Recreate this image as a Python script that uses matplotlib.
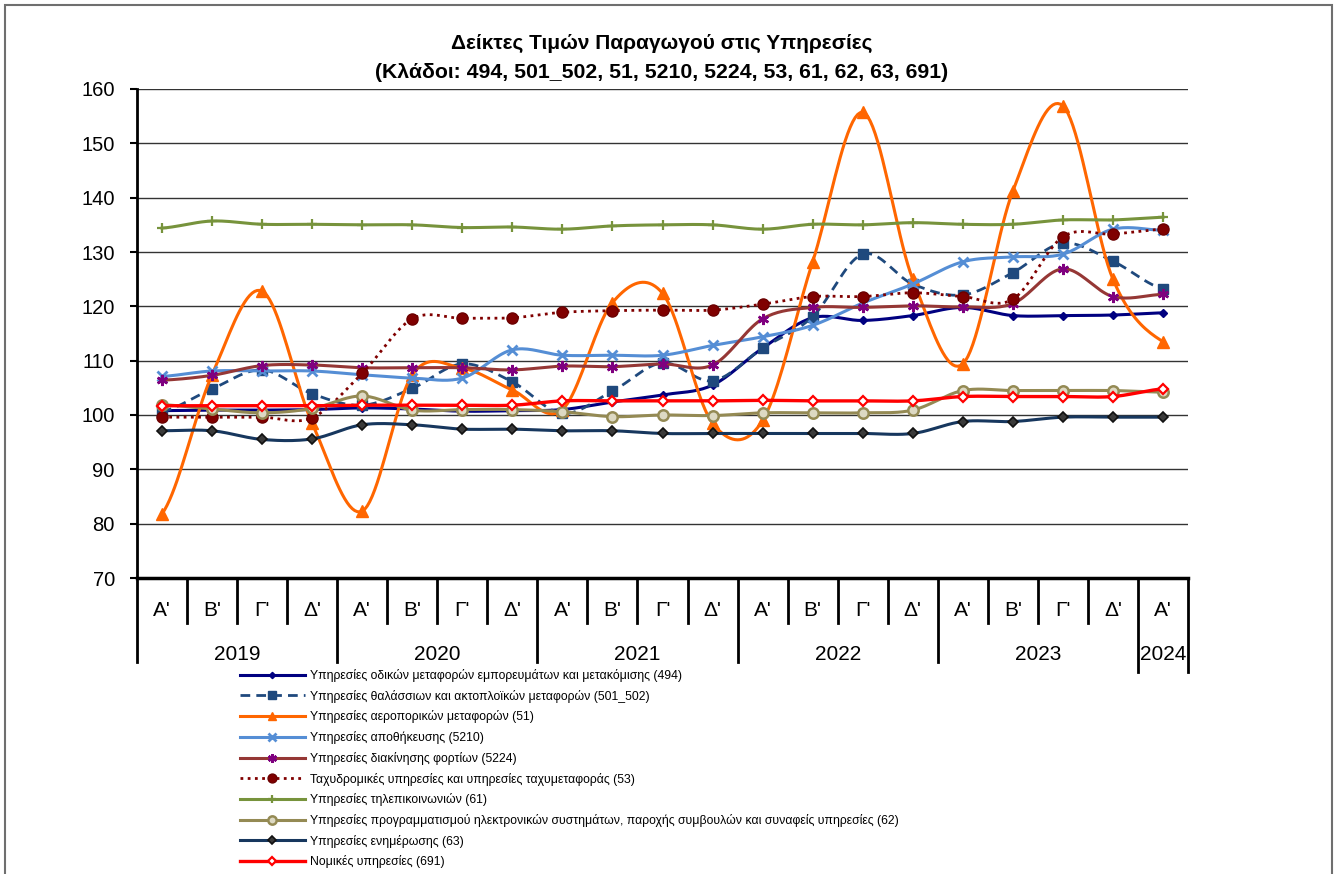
import numpy as np
import matplotlib
matplotlib.use("Agg")
from matplotlib import pyplot as plt
from matplotlib.patches import Rectangle

plt.rcParams['font.family'] = ['Liberation Sans', 'DejaVu Sans']

quarters = ["Α'", "Β'", "Γ'", "Δ'"] * 5 + ["Α'"]
years = ['2019', '2020', '2021', '2022', '2023', '2024']
year_len = [4, 4, 4, 4, 4, 1]

s494 = [100.8, 100.9, 100.9, 101.0, 101.3, 101.1, 100.7, 100.8, 101.0, 102.4, 103.7,
        105.5, 112.3, 117.9, 117.4, 118.3, 119.8, 118.3, 118.3, 118.4, 118.8]
s501 = [100.6, 104.8, 108.3, 103.9, 101.8, 104.9, 109.4, 106.1, 100.3, 104.4, 109.6,
        106.3, 112.3, 118.1, 129.6, 124.1, 122.1, 126.2, 131.6, 128.3, 123.2]
s51 = [81.8, 107.4, 122.8, 98.5, 82.3, 107.4, 108.6, 104.6, 101.0, 120.7, 122.4,
       98.5, 99.0, 128.2, 155.7, 125.0, 109.4, 141.2, 156.9, 125.0, 113.5]
s5210 = [107.1, 108.1, 108.1, 108.1, 107.4, 106.8, 106.8, 112.0, 111.0, 111.0, 111.0,
         112.8, 114.4, 116.5, 120.6, 124.1, 128.2, 129.1, 129.6, 134.2, 134.0]
s5224 = [106.4, 107.3, 109.1, 109.2, 108.7, 108.7, 108.7, 108.3, 109.0, 108.9, 109.4,
         109.2, 117.7, 119.8, 119.8, 120.1, 119.9, 120.5, 126.9, 121.8, 122.2]
s53 = [99.6, 99.6, 99.6, 99.5, 107.7, 117.7, 117.8, 117.9, 118.9, 119.2, 119.3,
       119.3, 120.4, 121.8, 121.8, 122.5, 121.8, 121.3, 132.8, 133.3, 134.2]
s61 = [134.4, 135.7, 135.1, 135.1, 135.0, 135.0, 134.5, 134.6, 134.2, 134.8, 135.0,
       135.0, 134.2, 135.1, 135.0, 135.4, 135.1, 135.1, 135.9, 135.9, 136.4]
s62 = [101.9, 101.1, 100.4, 101.2, 103.5, 100.9, 101.0, 101.0, 100.6, 99.7, 100.0,
       99.9, 100.4, 100.4, 100.4, 100.9, 104.5, 104.5, 104.5, 104.5, 104.2]
s63 = [97.1, 97.1, 95.5, 95.6, 98.2, 98.2, 97.4, 97.4, 97.1, 97.1, 96.6,
       96.6, 96.6, 96.6, 96.6, 96.6, 98.8, 98.8, 99.6, 99.6, 99.6]
s691 = [101.7, 101.7, 101.7, 101.7, 101.8, 101.8, 101.8, 101.8, 102.6, 102.6, 102.6,
        102.6, 102.7, 102.6, 102.6, 102.6, 103.4, 103.4, 103.4, 103.4, 104.8]

labels = [
    'Υπηρεσίες οδικών μεταφορών εμπορευμάτων και μετακόμισης (494)',
    'Υπηρεσίες θαλάσσιων και ακτοπλοϊκών μεταφορών (501_502)',
    'Υπηρεσίες αεροπορικών μεταφορών (51)',
    'Υπηρεσίες αποθήκευσης (5210)',
    'Υπηρεσίες διακίνησης φορτίων (5224)',
    'Ταχυδρομικές υπηρεσίες και υπηρεσίες ταχυμεταφοράς (53)',
    'Υπηρεσίες τηλεπικοινωνιών (61)',
    'Υπηρεσίες προγραμματισμού ηλεκτρονικών συστημάτων, παροχής συμβουλών και συναφείς υπηρεσίες (62)',
    'Υπηρεσίες ενημέρωσης (63)',
    'Νομικές υπηρεσίες (691)',
]

NSEG = 20


def smooth(y):
    # excel-like smoothed line: bezier segments, catmull-rom tangents
    y = np.asarray(y, float)
    x = np.arange(len(y), dtype=float)
    xs, ys = [x[0]], [y[0]]
    t = np.linspace(0, 1, NSEG + 1)[1:]
    for i in range(len(y) - 1):
        y0 = y[i - 1] if i > 0 else y[i]
        y3 = y[i + 2] if i + 2 < len(y) else y[i + 1]
        c1 = y[i] + (y[i + 1] - y0) / 6
        c2 = y[i + 1] - (y3 - y[i]) / 6
        b = (1 - t) ** 3 * y[i] + 3 * (1 - t) ** 2 * t * c1 + 3 * (1 - t) * t ** 2 * c2 + t ** 3 * y[i + 1]
        xs.extend(x[i] + t)
        ys.extend(b)
    return np.array(xs), np.array(ys)


fig = plt.figure(figsize=(13.4, 8.74), dpi=100)
fig.patches.append(Rectangle((5 / 1340, -0.02), 1327 / 1340, 1 - 5 / 874 + 0.02,
                             transform=fig.transFigure, fill=False, ec='#6f6f6f', lw=1.5))
ax = fig.add_axes([137 / 1340, 1 - 578 / 874, 1051 / 1340, 489 / 874])

styles = [
    (s494, dict(color='#000080', lw=2.2, marker='D', ms=4, mfc='#000080', mec='#000080')),
    (s501, dict(color='#1F497D', lw=2.0, dashes=(3.5, 2.2), marker='s', ms=7, mfc='#1F497D', mec='#1F497D')),
    (s51, dict(color='#FF6600', lw=2.2, marker='^', ms=8, mfc='#FF6600', mec='#FF6600')),
    (s5210, dict(color='#558ED5', lw=2.2, marker='x', ms=7, mew=2, mec='#558ED5')),
    (s5224, dict(color='#953735', lw=2.2, marker=(6, 2, 0), ms=8, mew=1.8, mec='#7F007F')),
    (s53, dict(color='#800000', lw=2.0, dashes=(1, 1.6), marker='o', ms=8, mfc='#800000', mec='#6b0000')),
    (s61, dict(color='#77933C', lw=2.2, marker='+', ms=7, mew=1.6, mec='#77933C')),
    (s62, dict(color='#948A54', lw=2.2, marker='o', ms=7.5, mfc='#DDD9C3', mec='#948A54', mew=1.8)),
    (s63, dict(color='#17375E', lw=2.2, marker='D', ms=5.5, mfc='#3a3a3a', mec='#111111', mew=1.2)),
    (s691, dict(color='#FF0000', lw=2.4, marker='D', ms=5.5, mfc='white', mec='#FF0000', mew=1.6)),
]

handles = []
for (vals, st), lab in zip(styles, labels):
    xs, ys = smooth(vals)
    h, = ax.plot(xs, ys, markevery=NSEG, label=lab, clip_on=False, **st)
    handles.append(h)

ax.set_xlim(-0.5, len(quarters) - 0.5)
ax.set_ylim(70, 160)
ax.set_yticks(np.arange(70, 161, 10))
ax.yaxis.grid(True, color='#333333', lw=1)
ax.set_axisbelow(True)
for side in ['top', 'right']:
    ax.spines[side].set_visible(False)
ax.spines['left'].set_linewidth(2)
ax.spines['bottom'].set_linewidth(2.5)
ax.tick_params(axis='y', labelsize=14.5, length=5, width=1.5, pad=11)
ax.set_xticks([])

# multi-level category axis
tr = ax.get_xaxis_transform()
for i, q in enumerate(quarters):
    ax.text(i, -32 / 489, q, transform=tr, ha='center', va='center', fontsize=15)
bounds = np.cumsum([0] + year_len) - 0.5
for b in np.arange(-0.5, len(quarters), 1.0):
    if b in bounds:
        continue
    ax.plot([b, b], [0, -45 / 489], transform=tr, color='black', lw=2, clip_on=False)
for k, b in enumerate(bounds):
    depth = 94 if k >= len(bounds) - 2 else 84
    ax.plot([b, b], [0, -depth / 489], transform=tr, color='black', lw=2, clip_on=False)
for k, yr in enumerate(years):
    mid = (bounds[k] + bounds[k + 1]) / 2
    ax.text(mid, -77 / 489, yr, transform=tr, ha='center', va='center', fontsize=15)

fig.text(662 / 1340, 1 - 43 / 874, 'Δείκτες Τιμών Παραγωγού στις Υπηρεσίες',
         ha='center', va='center', fontsize=15, fontweight='bold')
fig.text(662 / 1340, 1 - 72 / 874, '(Κλάδοι: 494, 501_502, 51, 5210, 5224, 53, 61, 62, 63, 691)',
         ha='center', va='center', fontsize=15.3, fontweight='bold')

fig.legend(handles=handles, loc='upper left', bbox_to_anchor=(240 / 1340, 1 - 669 / 874),
           frameon=False, fontsize=8.8, handlelength=5.3, handletextpad=0.4,
           labelspacing=0.63, borderpad=0, borderaxespad=0, numpoints=1, markerscale=0.8)

fig.savefig('out.png', dpi=100)
